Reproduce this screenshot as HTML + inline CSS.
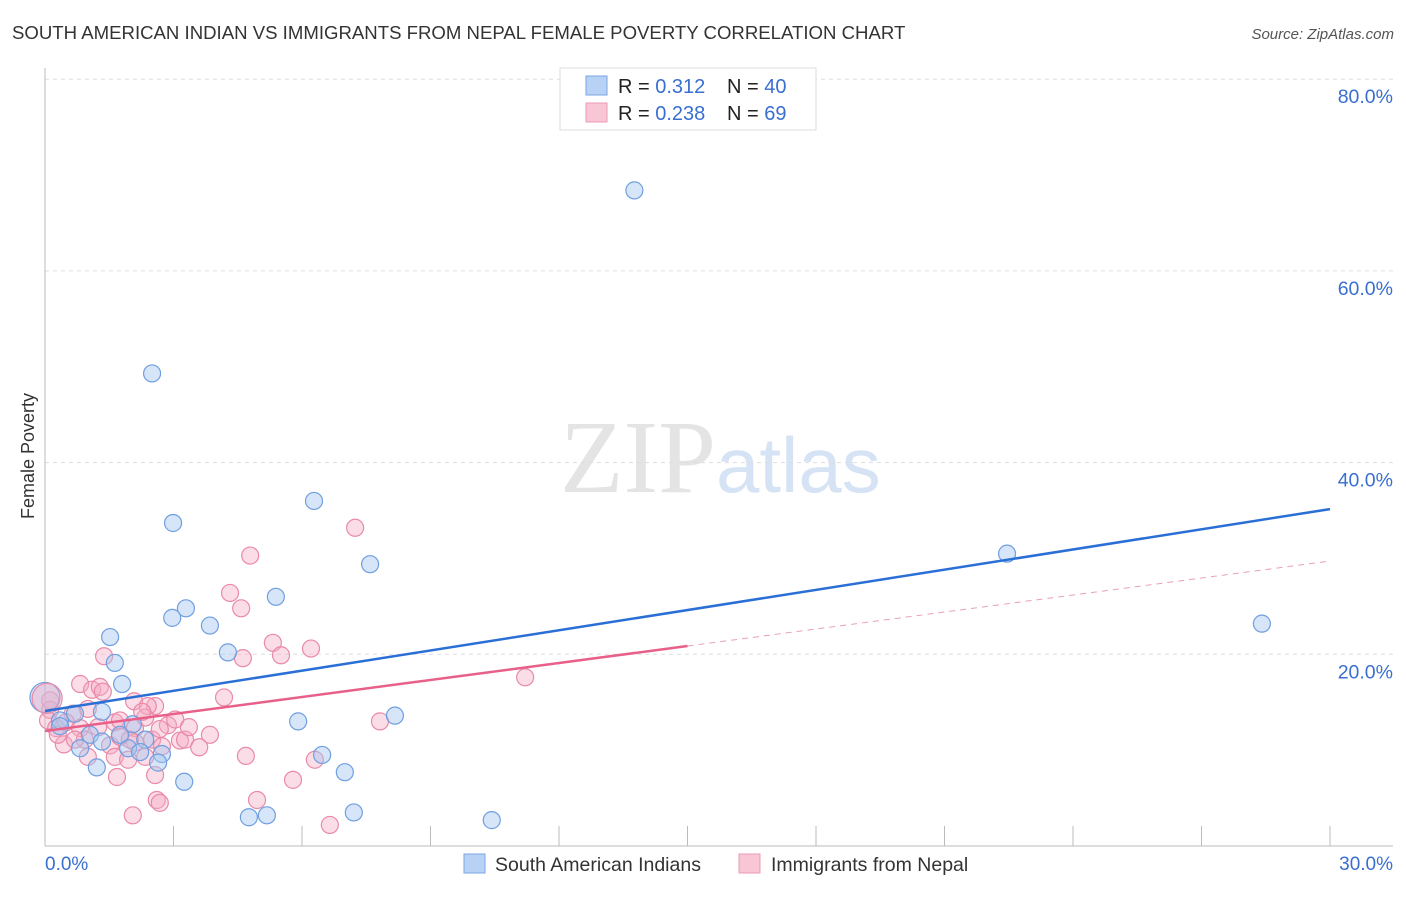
<!DOCTYPE html>
<html><head><meta charset="utf-8"><style>
body{margin:0;background:#fff;font-family:"Liberation Sans",sans-serif;}
svg text{font-family:"Liberation Sans",sans-serif;}
</style></head><body>
<svg width="1406" height="892" xmlns="http://www.w3.org/2000/svg">
<text x="12" y="39" font-size="18.6" fill="#333">SOUTH AMERICAN INDIAN VS IMMIGRANTS FROM NEPAL FEMALE POVERTY CORRELATION CHART</text>
<text x="1394" y="39" font-size="15" fill="#555" font-style="italic" text-anchor="end">Source: ZipAtlas.com</text>
<text x="716" y="492" font-size="104" fill="#e4e4e4" text-anchor="end" style="font-family:'Liberation Serif',serif">ZIP</text>
<text x="716" y="492" font-size="78" fill="#d5e3f5">atlas</text>
<g id="grid"></g>
<g id="axes"></g>
<g id="marks"></g>
<text transform="translate(34,456) rotate(-90)" font-size="18" fill="#333" text-anchor="middle">Female Poverty</text>
<text x="45" y="870" font-size="19" fill="#3a6fd0">0.0%</text>
<text x="1393" y="870" font-size="19" fill="#3a6fd0" text-anchor="end">30.0%</text>
<g>
<rect x="560" y="68" width="256" height="62" fill="#fff" stroke="#ddd"/>
<rect x="586" y="76" width="21" height="19" fill="#b8d2f5" stroke="#7aa6e3"/>
<rect x="586" y="103" width="21" height="19" fill="#f9c6d5" stroke="#ec9ab4"/>
<text x="618" y="93" font-size="20" fill="#222">R = <tspan fill="#3a6fd0"> 0.312</tspan><tspan x="727">N = </tspan><tspan fill="#3a6fd0">40</tspan></text>
<text x="618" y="120" font-size="20" fill="#222">R = <tspan fill="#3a6fd0">0.238</tspan><tspan x="727">N = </tspan><tspan fill="#3a6fd0"> 69</tspan></text>
</g>
<g>
<rect x="464" y="854" width="21" height="19" fill="#b8d2f5" stroke="#7aa6e3"/>
<text x="495" y="871" font-size="19.5" fill="#333">South American Indians</text>
<rect x="739" y="854" width="21" height="19" fill="#f9c6d5" stroke="#ec9ab4"/>
<text x="771" y="871" font-size="19.5" fill="#333">Immigrants from Nepal</text>
</g>
</svg>
<script>
const blueX=[13.76,2.50,2.99,6.28,7.59,22.46,28.41,5.39,3.29,2.97,3.85,1.52,4.27,1.63,1.80,5.91,8.17,0.35,0.70,1.33,2.05,1.05,1.33,0.82,1.94,2.34,2.22,2.73,2.64,6.47,1.21,3.25,7.0,7.21,4.76,5.18,10.43,0.35,1.75];
const blueY=[68.4,49.3,33.7,36.0,29.4,30.5,23.2,26.0,24.8,23.8,23.0,21.8,20.2,19.1,16.9,13.0,13.6,13.1,13.8,14.0,12.7,11.6,10.9,10.2,10.2,11.1,9.8,9.6,8.7,9.5,8.2,6.7,7.7,3.5,3.0,3.2,2.7,12.5,11.6];
const pinkX=[7.24,4.79,4.32,4.58,5.32,5.51,6.21,4.62,1.38,11.21,0.82,1.10,1.28,1.35,4.18,2.08,2.57,2.40,1.00,0.65,0.12,0.12,0.07,0.26,0.49,0.82,1.24,1.63,1.75,2.10,2.34,2.87,3.04,2.27,7.82,0.44,0.93,1.52,1.75,2.10,2.50,2.73,3.15,3.27,3.85,2.68,1.00,1.63,1.94,2.34,4.69,6.30,2.57,1.68,5.79,2.61,2.68,4.95,2.05,6.65,0.30,0.70,1.98,3.36,3.6];
const pinkY=[33.2,30.3,26.4,24.8,21.2,19.9,20.6,19.6,19.8,17.6,16.9,16.3,16.6,16.1,15.5,15.1,14.6,14.6,14.3,13.8,14.2,15.2,13.1,12.3,12.9,12.3,12.4,12.9,13.1,12.3,13.4,12.6,13.2,14.0,13.0,10.6,11.1,10.5,11.4,10.8,11.1,10.4,11.0,11.1,11.6,12.2,9.3,9.3,9.0,9.3,9.4,9.0,7.4,7.2,6.9,4.8,4.5,4.8,3.2,2.2,11.6,11.1,11.1,12.4,10.3];
const bigPoints=[[0,15.5,'blue'],[0.05,15.4,'pink']];
const blueLine=[14.08,35.15];
const pinkLine=[12.0,29.73];
const yTicks=[20,40,60,80];
const xTicks=[3,6,9,12,15,18,21,24,27,30];
const NS='http://www.w3.org/2000/svg';
const xs=v=>45+v/30*1285, ys=v=>846-v*9.585;
function mk(t,a,p){const e=document.createElementNS(NS,t);for(const k in a)e.setAttribute(k,a[k]);p.appendChild(e);return e;}
const grid=document.getElementById('grid'),axes=document.getElementById('axes'),marks=document.getElementById('marks');
yTicks.forEach(v=>{
 const l=mk('line',{x1:45,x2:1393,y1:ys(v),y2:ys(v),stroke:'#ddd','stroke-dasharray':'4,4'},grid);
 
 
 const t=mk('text',{x:1393,y:ys(v)+24,'font-size':19.5,fill:'#3a6fd0','text-anchor':'end'},grid);
 t.textContent=v.toFixed(1)+'%';
 
 
});
let a=mk('line',{x1:45,x2:45,y1:68,y2:846,stroke:'#bbb'},axes);


a=mk('line',{x1:45,x2:1393,y1:846,y2:846,stroke:'#bbb'},axes);


xTicks.forEach(v=>{const t=mk('line',{x1:xs(v),x2:xs(v),y1:826,y2:846,stroke:'#bbb'},axes);
 
 });
function dot(x,y,c,r){
 const e=mk('circle',{cx:xs(x),cy:ys(y),r:r,fill:c=='blue'?'rgba(165,198,240,0.45)':'rgba(245,170,195,0.4)',stroke:c=='blue'?'#6f9fe0':'#e98aa8','stroke-width':1.2},marks);
 
 
}
pinkX.forEach((x,i)=>dot(x,pinkY[i],'pink',8.5));
blueX.forEach((x,i)=>dot(x,blueY[i],'blue',8.5));
bigPoints.forEach(p=>dot(p[0],p[1],p[2],15));
let l=mk('line',{x1:xs(0),y1:ys(blueLine[0]),x2:xs(30),y2:ys(blueLine[1]),stroke:'#2a6fd6','stroke-width':2.5},marks);


const pm=pinkLine[0]+(pinkLine[1]-pinkLine[0])*15/30;
l=mk('line',{x1:xs(0),y1:ys(pinkLine[0]),x2:xs(15),y2:ys(pm),stroke:'#e8608a','stroke-width':2.5},marks);


l=mk('line',{x1:xs(15),y1:ys(pm),x2:xs(30),y2:ys(pinkLine[1]),stroke:'#e8a0b8','stroke-width':1,'stroke-dasharray':'6,5'},marks);


</script>
</body></html>
